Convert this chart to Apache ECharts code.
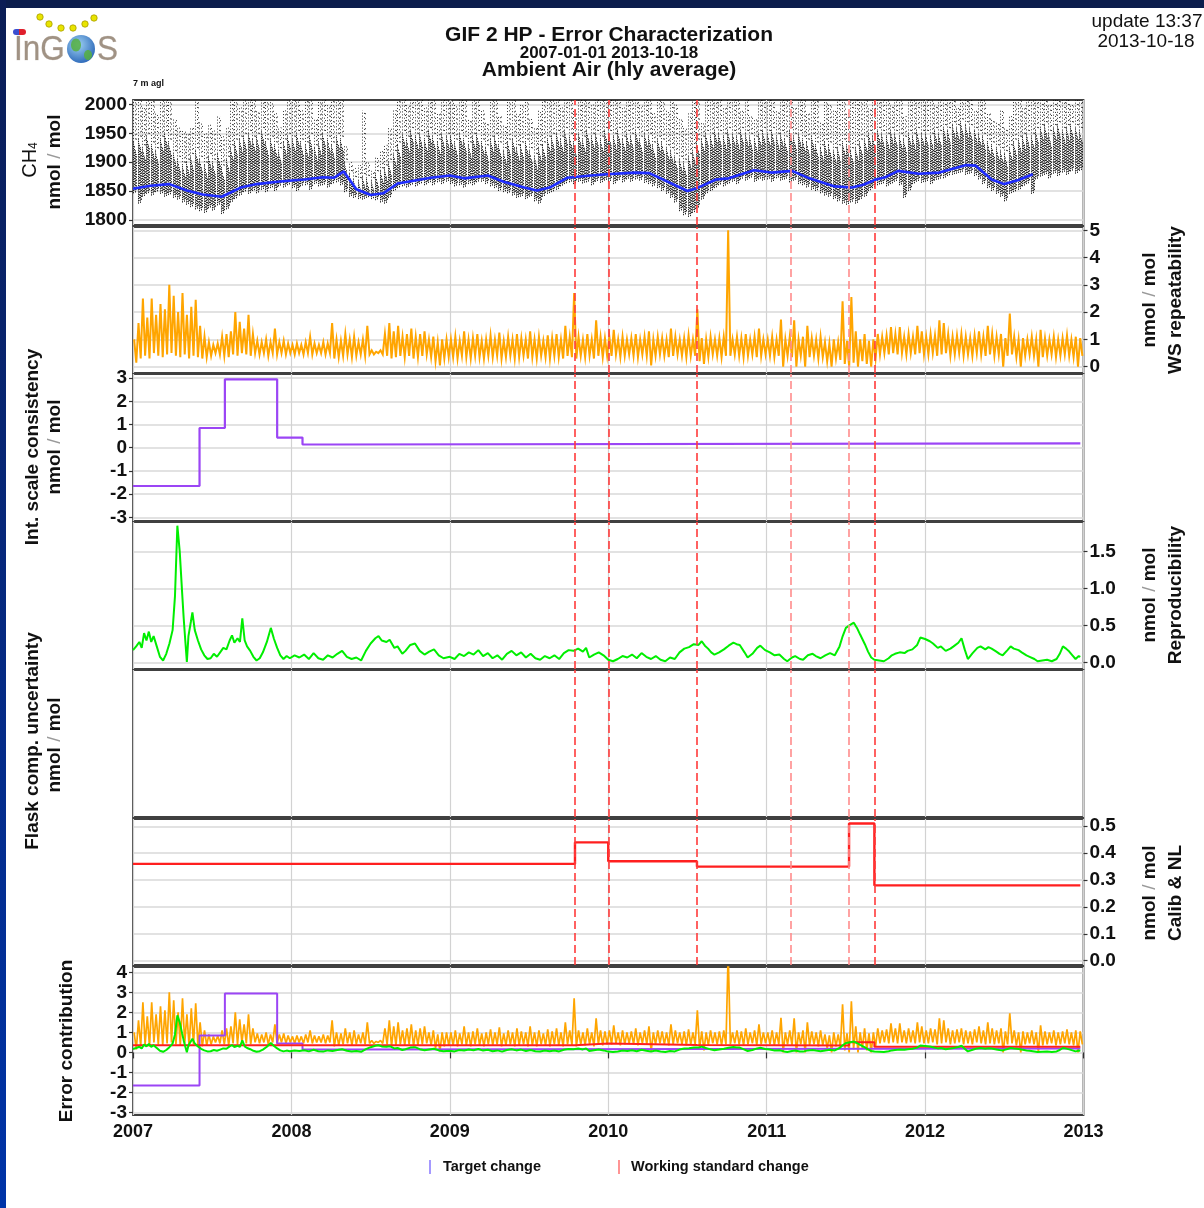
<!DOCTYPE html>
<html>
<head>
<meta charset="utf-8">
<title>GIF 2 HP - Error Characterization</title>
<script src="https://cdn.jsdelivr.net/npm/echarts@6/dist/echarts.min.js"></script>
<style>
  html, body { margin: 0; padding: 0; background: #ffffff; }
  #chart { width: 1204px; height: 1208px; }
</style>
</head>
<body>
<div id="chart"></div>
<script>
// ---------- axis ticks ----------
const xMin = 2007, xMax = 2013;
const yearTicks = [2007, 2008, 2009, 2010, 2011, 2012, 2013];
const ch4Ticks = [1800, 1850, 1900, 1950, 2000];
const wsTicks = [0, 1, 2, 3, 4, 5];
const scaleTicks = [-3, -2, -1, 0, 1, 2, 3];
const reproTicks = [0, 0.5, 1, 1.5];
const calibTicks = [0, 0.1, 0.2, 0.3, 0.4, 0.5];
const errorTicks = [-3, -2, -1, 0, 1, 2, 3, 4];

// ---------- CH4 hourly cloud, summarised per ~10-day bin ----------
const ch4BinStart = 2007, ch4BinStep = 1 / 36;
const ch4Low = [
  1846,1828,1840,1845,1842,1848,1845,1840,1843,1838,1835,1830,
  1826,1822,1818,1815,1812,1820,1816,1825,1810,1818,1830,1836,
  1842,1848,1845,1850,1846,1852,1848,1855,1850,1858,1856,1860,
  1855,1850,1858,1860,1852,1862,1858,1860,1856,1862,1865,1860,
  1848,1840,1838,1836,1835,1838,1836,1834,1830,1828,1838,1850,
  1855,1858,1856,1860,1858,1862,1860,1864,1860,1865,1862,1866,
  1862,1858,1860,1856,1862,1860,1865,1866,1862,1858,1855,1850,
  1848,1846,1842,1838,1840,1836,1840,1832,1828,1840,1845,1848,
  1852,1858,1862,1865,1862,1866,1863,1865,1860,1866,1864,1868,
  1866,1862,1868,1865,1870,1866,1870,1868,1864,1862,1858,1855,
  1850,1845,1838,1830,1815,1808,1805,1812,1820,1835,1845,1850,
  1855,1860,1858,1862,1866,1862,1870,1868,1872,1866,1870,1868,
  1870,1866,1872,1868,1870,1865,1868,1862,1860,1856,1852,1850,
  1846,1842,1840,1836,1832,1828,1826,1830,1828,1835,1840,1850,
  1855,1860,1862,1858,1862,1866,1860,1838,1850,1862,1866,1864,
  1866,1862,1868,1870,1872,1876,1878,1880,1882,1878,1880,1876,
  1870,1862,1855,1850,1845,1840,1832,1845,1848,1852,1858,1862,
  1845,1870,1875,1878,1872,1880,1876,1882,1878,1884,1880,1885
];
const ch4Core = [
  1935,1940,1925,1945,1930,1920,1940,1950,1935,1915,1905,1895,
  1900,1910,1920,1905,1895,1910,1900,1915,1890,1905,1925,1935,
  1940,1945,1950,1940,1945,1955,1935,1940,1930,1920,1935,1945,
  1940,1950,1935,1930,1945,1925,1935,1950,1940,1930,1945,1940,
  1900,1880,1870,1868,1875,1872,1868,1880,1885,1890,1900,1915,
  1930,1950,1940,1955,1945,1950,1940,1955,1945,1935,1950,1945,
  1945,1935,1950,1940,1930,1945,1950,1935,1925,1940,1945,1930,
  1920,1935,1940,1925,1930,1935,1920,1910,1925,1930,1940,1945,
  1950,1940,1955,1945,1935,1950,1940,1955,1945,1950,1940,1955,
  1950,1945,1955,1940,1950,1945,1955,1940,1950,1945,1930,1940,
  1935,1925,1920,1910,1905,1900,1910,1920,1935,1940,1950,1945,
  1955,1950,1945,1955,1950,1945,1955,1950,1945,1940,1950,1955,
  1950,1955,1945,1950,1940,1955,1945,1950,1940,1935,1945,1930,
  1925,1935,1930,1920,1925,1935,1930,1920,1925,1935,1940,1950,
  1945,1955,1950,1945,1955,1950,1945,1940,1950,1945,1955,1950,
  1950,1945,1955,1950,1960,1955,1965,1960,1970,1965,1960,1955,
  1950,1945,1935,1930,1925,1920,1915,1925,1935,1940,1945,1950,
  1945,1955,1960,1965,1950,1960,1965,1955,1960,1965,1960,1955
];
const ch4High = [
  2010,2010,1995,2010,2010,1985,2010,2010,2005,1975,1960,1955,
  1950,1960,2010,1970,1950,1965,1955,1980,1945,1960,2010,2010,
  1995,2010,2010,2010,1990,2010,2010,2005,1985,1960,1990,2010,
  2010,2010,1990,2010,2010,1975,2010,2010,2000,2010,2010,2010,
  1930,1900,1890,1895,1990,1900,1885,1910,1920,1930,1960,1990,
  2010,2010,2000,2010,2010,2010,1995,2010,2010,1985,2010,2010,
  2010,2000,2010,2010,1975,2010,2010,1990,1970,2010,2010,1980,
  1965,2010,2010,1985,2000,2010,1975,1960,1990,2010,2010,2010,
  2010,1995,2010,2010,1990,2010,2010,2010,2000,2010,2010,2010,
  2010,2010,2010,1995,2010,2010,2010,2000,2010,2010,1985,2010,
  2010,1990,2010,2000,1975,1960,1985,2010,2010,1970,2010,2010,
  2010,2010,1995,2010,2010,2010,1990,2010,1980,1975,2010,2010,
  2010,2010,1990,2010,2010,2010,1995,2010,2010,1985,2010,2010,
  1970,2010,2000,1990,2010,2010,1985,2010,2010,2010,2010,1995,
  2010,2010,2010,2010,2000,2010,2010,1980,2010,2010,2010,2010,
  2010,2010,2000,2010,2010,2010,2010,1995,2010,2010,2010,1990,
  2010,2010,1985,1975,1970,1990,1960,1980,2010,2010,1995,2010,
  2010,2010,2010,2010,2000,2010,2010,2010,2010,2000,2010,2010
];
// smoothed CH4 background curve [decimal year, nmol/mol]
const ch4Smooth = [
  [2007.00,1854],[2007.11,1859],[2007.23,1862],[2007.34,1851],[2007.44,1844],[2007.56,1840],
  [2007.68,1856],[2007.78,1862],[2007.91,1866],[2008.08,1870],[2008.20,1874],[2008.27,1873],
  [2008.33,1884],[2008.41,1853],[2008.50,1843],[2008.58,1846],[2008.67,1863],[2008.88,1873],
  [2009.00,1877],[2009.09,1872],[2009.24,1877],[2009.34,1866],[2009.47,1856],[2009.55,1851],
  [2009.63,1856],[2009.74,1873],[2009.89,1877],[2009.99,1879],[2010.17,1882],[2010.26,1881],
  [2010.50,1850],[2010.56,1855],[2010.68,1870],[2010.76,1872],[2010.92,1886],[2011.03,1882],
  [2011.16,1885],[2011.27,1872],[2011.43,1858],[2011.54,1856],[2011.61,1861],[2011.69,1870],
  [2011.75,1874],[2011.83,1885],[2011.96,1880],[2012.09,1882],[2012.26,1895],[2012.32,1894],
  [2012.42,1870],[2012.50,1862],[2012.59,1869],[2012.68,1879]
];

// ---------- working standard repeatability, per ~10-day bin ----------
const wsBinStart = 2007, wsBinStep = 1 / 36;
const wsHigh = [
  1.0,1.6,2.5,1.8,2.5,1.9,2.3,2.1,3.0,2.6,2.0,2.7,
  1.9,2.2,2.45,1.5,1.1,0.9,0.8,0.85,1.1,1.2,1.3,2.0,
  1.65,1.4,1.9,1.2,0.95,0.9,1.0,0.9,1.4,0.9,0.95,0.85,
  0.8,0.85,0.8,0.9,1.1,0.85,0.8,0.9,0.85,1.6,1.0,0.95,
  1.2,1.0,1.1,0.9,1.0,1.5,0.6,0.55,0.6,1.2,1.6,1.3,
  1.5,1.1,1.2,1.4,1.1,1.2,1.3,1.0,1.1,0.9,1.0,1.0,
  1.0,1.1,0.95,1.3,1.0,1.05,1.2,0.95,1.0,1.15,1.0,1.25,
  0.95,1.1,1.0,1.2,1.05,1.0,1.3,1.0,1.1,0.95,1.15,1.05,
  1.2,1.0,1.5,1.1,2.7,1.1,1.0,1.2,1.0,1.7,1.1,1.05,
  1.1,1.35,1.0,1.1,1.0,1.05,1.2,1.0,1.1,1.3,1.0,1.1,
  1.05,1.0,1.4,1.1,1.0,1.05,1.15,1.0,2.1,1.05,1.0,1.1,
  1.0,1.05,1.1,5.0,1.0,1.1,1.05,1.2,1.0,1.1,1.4,1.0,
  1.0,1.1,1.0,1.73,1.0,1.1,1.7,1.0,1.1,1.5,1.05,1.0,
  1.1,0.9,0.85,1.0,0.9,2.4,0.95,2.55,1.3,1.0,1.2,0.95,
  1.0,1.2,1.1,1.15,1.45,1.2,1.45,1.1,1.2,1.1,1.5,1.3,
  1.1,1.2,1.15,1.7,1.6,1.2,1.1,1.15,1.2,1.1,1.05,1.15,
  1.3,1.1,1.5,1.2,1.1,1.2,1.05,1.95,1.1,1.0,1.05,1.0,
  1.1,1.0,1.35,1.05,1.0,1.1,1.0,1.05,1.15,1.0,1.1,1.05
];
const wsLow = [
  0.15,0.3,0.4,0.3,0.5,0.4,0.35,0.45,0.5,0.4,0.35,0.45,
  0.3,0.4,0.35,0.3,0.35,0.4,0.5,0.45,0.4,0.35,0.45,0.4,
  0.5,0.45,0.4,0.5,0.45,0.5,0.4,0.5,0.45,0.5,0.45,0.5,
  0.45,0.5,0.45,0.5,0.45,0.5,0.5,0.45,0.5,0.3,0.35,0.4,
  0.45,0.35,0.4,0.45,0.4,0.45,0.45,0.5,0.45,0.4,0.3,0.35,
  0.4,0.35,0.4,0.3,0.35,0.4,0.45,0.35,0.2,0.05,0.3,0.35,
  0.35,0.3,0.4,0.35,0.3,0.4,0.35,0.3,0.4,0.35,0.4,0.3,
  0.35,0.4,0.3,0.35,0.4,0.3,0.35,0.3,0.4,0.35,0.3,0.4,
  0.35,0.3,0.4,0.35,0.3,0.4,0.35,0.4,0.3,0.4,0.35,0.4,
  0.4,0.45,0.35,0.4,0.45,0.4,0.35,0.45,0.4,0.05,0.4,0.45,
  0.4,0.35,0.4,0.45,0.4,0.35,0.4,0.4,0.2,0.1,0.35,0.45,
  0.4,0.35,0.4,0.4,0.45,0.4,0.35,0.4,0.45,0.35,0.4,0.45,
  0.4,0.35,0.4,0.0,0.4,0.35,0.0,0.4,0.0,0.35,0.4,0.3,
  0.35,0.2,0.0,0.3,0.25,0.1,0.0,0.15,0.0,0.2,0.1,0.0,
  0.3,0.45,0.5,0.45,0.5,0.45,0.5,0.45,0.5,0.45,0.5,0.45,
  0.45,0.5,0.4,0.45,0.5,0.4,0.45,0.5,0.4,0.45,0.4,0.5,
  0.45,0.4,0.45,0.4,0.45,0.0,0.4,0.45,0.35,0.0,0.4,0.45,
  0.4,0.0,0.35,0.4,0.45,0.35,0.4,0.45,0.4,0.35,0.0,0.4
];

// ---------- internal scale consistency (target offsets), step changes ----------
const targetSteps = [
  [2007.00,-1.65],[2007.42,0.85],[2007.58,2.95],[2007.91,0.44],
  [2008.07,0.14],[2008.27,0.19],[2012.98,0.19]
];

// ---------- reproducibility ----------
const reproPoints = [
  [2007.00,0.17],[2007.02,0.22],[2007.04,0.28],[2007.055,0.20],[2007.07,0.40],[2007.085,0.30],
  [2007.10,0.42],[2007.115,0.28],[2007.13,0.36],[2007.15,0.22],[2007.17,0.08],[2007.19,0.03],
  [2007.21,0.12],[2007.23,0.26],[2007.25,0.44],[2007.265,0.90],[2007.28,1.85],[2007.295,1.50],
  [2007.31,0.95],[2007.32,0.60],[2007.33,0.30],[2007.34,0.01],[2007.35,0.36],[2007.365,0.55],
  [2007.375,0.68],[2007.39,0.44],[2007.41,0.30],[2007.43,0.18],[2007.45,0.10],[2007.47,0.05],
  [2007.49,0.06],[2007.51,0.12],[2007.53,0.08],[2007.55,0.14],[2007.57,0.20],[2007.59,0.18],
  [2007.61,0.30],[2007.625,0.37],[2007.64,0.27],[2007.66,0.33],[2007.675,0.28],[2007.69,0.60],
  [2007.705,0.30],[2007.72,0.22],[2007.74,0.16],[2007.76,0.08],[2007.78,0.03],[2007.80,0.06],
  [2007.82,0.14],[2007.845,0.28],[2007.87,0.47],[2007.89,0.32],[2007.91,0.20],[2007.93,0.10],
  [2007.95,0.05],[2007.97,0.09],[2007.99,0.06],[2008.02,0.10],[2008.05,0.07],[2008.08,0.11],
  [2008.11,0.05],[2008.14,0.13],[2008.17,0.06],[2008.20,0.04],[2008.23,0.10],[2008.26,0.07],
  [2008.29,0.12],[2008.32,0.16],[2008.35,0.08],[2008.38,0.05],[2008.41,0.07],[2008.44,0.03],
  [2008.47,0.16],[2008.50,0.26],[2008.53,0.33],[2008.55,0.36],[2008.57,0.30],[2008.60,0.28],
  [2008.62,0.31],[2008.65,0.20],[2008.67,0.22],[2008.70,0.12],[2008.72,0.16],[2008.75,0.24],
  [2008.78,0.26],[2008.81,0.16],[2008.84,0.11],[2008.87,0.15],[2008.90,0.18],[2008.93,0.10],
  [2008.96,0.06],[2009.00,0.08],[2009.03,0.05],[2009.06,0.12],[2009.09,0.09],[2009.12,0.14],
  [2009.15,0.11],[2009.18,0.17],[2009.21,0.09],[2009.24,0.13],[2009.27,0.06],[2009.30,0.10],
  [2009.33,0.04],[2009.36,0.12],[2009.39,0.16],[2009.42,0.10],[2009.45,0.14],[2009.48,0.07],
  [2009.51,0.12],[2009.54,0.06],[2009.57,0.04],[2009.60,0.09],[2009.63,0.06],[2009.66,0.10],
  [2009.69,0.05],[2009.72,0.13],[2009.75,0.17],[2009.78,0.16],[2009.81,0.19],[2009.84,0.15],
  [2009.86,0.20],[2009.88,0.07],[2009.91,0.11],[2009.94,0.14],[2009.97,0.10],[2010.00,0.04],
  [2010.03,0.02],[2010.06,0.05],[2010.09,0.09],[2010.12,0.07],[2010.15,0.11],[2010.18,0.06],
  [2010.21,0.13],[2010.24,0.08],[2010.27,0.05],[2010.30,0.09],[2010.33,0.04],[2010.36,0.02],
  [2010.39,0.07],[2010.42,0.05],[2010.45,0.14],[2010.48,0.19],[2010.51,0.21],[2010.54,0.25],
  [2010.57,0.24],[2010.59,0.29],[2010.61,0.23],[2010.63,0.19],[2010.65,0.14],[2010.67,0.11],
  [2010.70,0.14],[2010.73,0.18],[2010.76,0.23],[2010.79,0.27],[2010.81,0.25],[2010.83,0.24],
  [2010.86,0.14],[2010.88,0.07],[2010.91,0.12],[2010.94,0.20],[2010.96,0.23],[2010.99,0.17],
  [2011.02,0.14],[2011.05,0.10],[2011.08,0.11],[2011.11,0.05],[2011.13,0.02],[2011.16,0.07],
  [2011.18,0.09],[2011.21,0.05],[2011.23,0.04],[2011.26,0.10],[2011.29,0.12],[2011.31,0.09],
  [2011.34,0.06],[2011.37,0.10],[2011.40,0.13],[2011.43,0.10],[2011.46,0.22],[2011.48,0.36],
  [2011.50,0.47],[2011.52,0.50],[2011.55,0.54],[2011.57,0.47],[2011.59,0.38],[2011.62,0.25],
  [2011.64,0.15],[2011.66,0.07],[2011.68,0.04],[2011.71,0.03],[2011.74,0.02],[2011.77,0.06],
  [2011.79,0.10],[2011.81,0.12],[2011.84,0.14],[2011.87,0.13],[2011.89,0.16],[2011.92,0.18],
  [2011.95,0.24],[2011.97,0.34],[2012.00,0.32],[2012.03,0.29],[2012.05,0.26],[2012.08,0.20],
  [2012.10,0.22],[2012.13,0.16],[2012.16,0.19],[2012.18,0.22],[2012.21,0.27],[2012.23,0.33],
  [2012.25,0.18],[2012.27,0.05],[2012.30,0.13],[2012.33,0.20],[2012.35,0.22],[2012.38,0.18],
  [2012.40,0.21],[2012.42,0.19],[2012.45,0.15],[2012.47,0.12],[2012.49,0.10],[2012.52,0.17],
  [2012.54,0.22],[2012.56,0.19],[2012.59,0.17],[2012.61,0.14],[2012.64,0.10],[2012.66,0.08],
  [2012.69,0.05],[2012.71,0.02],[2012.74,0.03],[2012.77,0.04],[2012.80,0.02],[2012.83,0.05],
  [2012.85,0.12],[2012.87,0.22],[2012.89,0.19],[2012.91,0.15],[2012.93,0.10],[2012.95,0.05],
  [2012.97,0.09],[2012.98,0.08]
];

// ---------- calibration & non-linearity, step changes ----------
const calibSteps = [
  [2007.00,0.36],[2009.79,0.44],[2010.00,0.37],[2010.56,0.35],
  [2011.52,0.51],[2011.68,0.28],[2012.98,0.28]
];

// ---------- working standard changes ----------
const wsChangeDates = [2009.79, 2010.00, 2010.56, 2011.15, 2011.52, 2011.68];
const wsChangeFaint = [false, false, false, true, true, false];

// ---------- layout ----------
const FONT = '"Liberation Sans", Arial, Helvetica, sans-serif';
const PLOT_LEFT = 133, PLOT_RIGHT = 120.5;
const panels = [
  { top: 100, height: 125 },   // CH4
  { top: 227, height: 146 },   // WS repeatability
  { top: 374, height: 147 },   // internal scale consistency
  { top: 522, height: 147 },   // reproducibility
  { top: 670, height: 147 },   // flask comparison
  { top: 819, height: 146 },   // calibration & NL
  { top: 967, height: 148 }    // error contribution
];
const yConfigs = [
  { side: 'left',  min: 1791,   max: 2008,  ticks: ch4Ticks },
  { side: 'right', min: -0.23,  max: 5.12,  ticks: wsTicks },
  { side: 'left',  min: -3.16,  max: 3.18,  ticks: scaleTicks },
  { side: 'right', min: -0.085, max: 1.9,   ticks: reproTicks, fmt: v => v.toFixed(1) },
  { side: 'left',  min: 0,      max: 1,     ticks: null },
  { side: 'right', min: -0.016, max: 0.527, ticks: calibTicks, fmt: v => v.toFixed(1) },
  { side: 'left',  min: -3.13,  max: 4.27,  ticks: errorTicks }
];

const COL = {
  blue: '#1f2dff', orange: '#ffa500', purple: '#9b45f5', green: '#00ee00',
  red: '#ff1f1f', grid: '#d9d9d9', frame: '#404040'
};

// ---------- derived series data ----------
const ch4Bins = ch4Low.map((lo, i) => [ch4BinStart + (i + 0.5) * ch4BinStep, lo, ch4Core[i], ch4High[i]]);
const wsLine = [];
wsHigh.forEach((hi, i) => {
  const t = wsBinStart + i * wsBinStep;
  wsLine.push([t + wsBinStep * 0.25, hi]);
  wsLine.push([t + wsBinStep * 0.75, wsLow[i]]);
});

function changeMarks() {
  return {
    silent: true,
    symbol: ['none', 'none'],
    label: { show: false },
    animation: false,
    data: wsChangeDates.map((d, i) => ({
      xAxis: d,
      lineStyle: { color: wsChangeFaint[i] ? '#ff8c8c' : '#ff3b3b', type: [8, 4], width: 1.6 }
    }))
  };
}

const grid = panels.map(p => ({
  left: PLOT_LEFT, right: PLOT_RIGHT, top: p.top, height: p.height,
  show: true, borderColor: COL.frame, borderWidth: 1.8, backgroundColor: 'transparent'
}));

const xAxis = panels.map((p, i) => ({
  gridIndex: i, type: 'value', min: xMin, max: xMax, interval: 1,
  axisLine: { show: false },
  axisTick: { show: i === 6, length: 6, inside: false, lineStyle: { color: '#333', width: 1.2 } },
  axisLabel: {
    show: i === 6, margin: 8, color: '#111', fontFamily: FONT, fontWeight: 'bold', fontSize: 18,
    formatter: v => String(Math.round(v)), customValues: yearTicks
  },
  splitLine: { show: true, lineStyle: { color: '#d2d2d2', width: 1.2 } }
}));

const yAxis = yConfigs.map((c, i) => ({
  gridIndex: i, type: 'value', position: c.side, min: c.min, max: c.max,
  axisLine: { show: false },
  axisTick: c.ticks ? { show: true, customValues: c.ticks, length: 4, lineStyle: { color: '#333', width: 1.2 } } : { show: false },
  axisLabel: c.ticks ? {
    show: true, customValues: c.ticks, margin: 6, color: '#111',
    fontFamily: FONT, fontWeight: 'bold', fontSize: 19,
    formatter: c.fmt || (v => String(v))
  } : { show: false },
  splitLine: { show: !!c.ticks, lineStyle: { color: COL.grid, width: 1.5 } }
}));

const lineBase = { type: 'line', showSymbol: false, symbol: 'none', animation: false, silent: true };

// one dotted streak per bin: dense part from the low end to the core top, sparse part above;
// strokes are snapped to pixel centres so the dots stay crisp and dark
function ch4Streak(params, api) {
  const x = api.value(0);
  const pLo = api.coord([x, api.value(1)]);
  const pCore = api.coord([x, api.value(2)]);
  const pHi = api.coord([x, api.value(3)]);
  const cx = Math.round(pLo[0]) + 0.5;
  const kids = [];
  [-2, -1, 0, 1].forEach((dx, k) => {
    kids.push({ type: 'line',
      shape: { x1: cx + dx, y1: pLo[1] - (k % 2) * 3, x2: cx + dx, y2: pCore[1] + k * 4 },
      style: { stroke: '#000', lineWidth: 1, lineDash: [1.4, 0.8 + (k % 2) * 0.7], lineDashOffset: k * 0.7, opacity: 0.85 } });
  });
  [-2, 0, 1].forEach((dx, k) => {
    kids.push({ type: 'line',
      shape: { x1: cx + dx, y1: pCore[1], x2: cx + dx, y2: pHi[1] },
      style: { stroke: '#000', lineWidth: 1, lineDash: [1, 2 + k], lineDashOffset: k * 1.3, opacity: 0.8 } });
  });
  return { type: 'group', children: kids };
}

const series = [
  {
    type: 'custom', xAxisIndex: 0, yAxisIndex: 0, clip: true, silent: true, animation: false,
    encode: { x: 0, y: [1, 3] }, data: ch4Bins, renderItem: ch4Streak
  },
  Object.assign({}, lineBase, {
    xAxisIndex: 0, yAxisIndex: 0, data: ch4Smooth, z: 3,
    lineStyle: { color: COL.blue, width: 2.6 }, markLine: changeMarks()
  }),
  Object.assign({}, lineBase, {
    xAxisIndex: 1, yAxisIndex: 1, data: wsLine,
    lineStyle: { color: COL.orange, width: 2, join: 'miter' }, markLine: changeMarks()
  }),
  Object.assign({}, lineBase, {
    xAxisIndex: 2, yAxisIndex: 2, data: targetSteps, step: 'end',
    lineStyle: { color: COL.purple, width: 2.2 }, markLine: changeMarks()
  }),
  Object.assign({}, lineBase, {
    xAxisIndex: 3, yAxisIndex: 3, data: reproPoints,
    lineStyle: { color: COL.green, width: 2 }, markLine: changeMarks()
  }),
  Object.assign({}, lineBase, {
    xAxisIndex: 4, yAxisIndex: 4, data: [],
    lineStyle: { color: '#000', width: 1 }, markLine: changeMarks()
  }),
  Object.assign({}, lineBase, {
    xAxisIndex: 5, yAxisIndex: 5, data: calibSteps, step: 'end',
    lineStyle: { color: COL.red, width: 2.4 }, markLine: changeMarks()
  }),
  // error contribution overlay
  Object.assign({}, lineBase, {
    xAxisIndex: 6, yAxisIndex: 6, data: wsLine, lineStyle: { color: COL.orange, width: 1.7 }
  }),
  Object.assign({}, lineBase, {
    xAxisIndex: 6, yAxisIndex: 6, data: targetSteps, step: 'end', lineStyle: { color: COL.purple, width: 2 }
  }),
  Object.assign({}, lineBase, {
    xAxisIndex: 6, yAxisIndex: 6, data: calibSteps, step: 'end', lineStyle: { color: COL.red, width: 2 }
  }),
  Object.assign({}, lineBase, {
    xAxisIndex: 6, yAxisIndex: 6, data: reproPoints, lineStyle: { color: COL.green, width: 2 }
  })
];

// ---------- texts and frame decoration ----------
const unitRich = {
  b: { fontFamily: FONT, fontWeight: 'bold', fontSize: 19, fill: '#111' },
  s: { fontFamily: FONT, fontWeight: 'normal', fontSize: 19, fill: '#9a9a9a' }
};
function vText(x, y, text, opts) {
  return {
    type: 'text', x: x, y: y, rotation: Math.PI / 2, silent: true, z: 10,
    style: Object.assign({
      text: text, align: 'center', verticalAlign: 'middle',
      font: 'bold 19px ' + FONT, fill: '#111'
    }, opts || {})
  };
}
function unitText(x, y) {
  return vText(x, y, '{b|nmol} {s|/} {b|mol}', { rich: unitRich });
}
function hText(x, y, text, font, align) {
  return {
    type: 'text', x: x, y: y, silent: true, z: 10,
    style: { text: text, align: align || 'center', verticalAlign: 'middle', font: font, fill: '#111' }
  };
}
const logoLetter = { fill: '#a09284', stroke: '#d6d0ca', lineWidth: 0.6 };

const graphic = [
  // window frame
  { type: 'rect', shape: { x: 0, y: 0, width: 1204, height: 8 }, style: { fill: '#0b1d4c' }, z: -10, silent: true },
  { type: 'rect', shape: { x: 0, y: 0, width: 6, height: 1208 }, z: -10, silent: true,
    style: { fill: { type: 'linear', x: 0, y: 0, x2: 0, y2: 1, colorStops: [
      { offset: 0, color: '#0b1d55' }, { offset: 1, color: '#0034a8' } ] } } },

  // logo
  { type: 'rect', shape: { x: 13, y: 29, width: 13, height: 6, r: 3 }, silent: true,
    style: { fill: { type: 'linear', x: 0, y: 0, x2: 1, y2: 0, colorStops: [
      { offset: 0, color: '#3a4fd0' }, { offset: 0.5, color: '#3a4fd0' },
      { offset: 0.5, color: '#e0202c' }, { offset: 1, color: '#e0202c' } ] } } },
  ...[[40,17],[49,24],[61,28],[73,28],[85,24],[94,18]].map(p => ({
    type: 'circle', shape: { cx: p[0], cy: p[1], r: 3.2 }, silent: true,
    style: { fill: '#e8e400', stroke: '#a89c00', lineWidth: 0.8 }
  })),
  { type: 'text', x: 14, y: 50, scaleX: 0.9, silent: true,
    style: Object.assign({ text: 'InG', align: 'left', verticalAlign: 'middle', font: '35px ' + FONT }, logoLetter) },
  { type: 'circle', shape: { cx: 81, cy: 49, r: 14 }, silent: true,
    style: { fill: { type: 'radial', x: 0.4, y: 0.35, r: 0.7, colorStops: [
      { offset: 0, color: '#9fd2f4' }, { offset: 1, color: '#2a66b8' } ] } } },
  { type: 'ellipse', shape: { cx: 76, cy: 45, rx: 5, ry: 6.5 }, silent: true, style: { fill: '#56b040', opacity: 0.85 } },
  { type: 'ellipse', shape: { cx: 88, cy: 55, rx: 4, ry: 5 }, silent: true, style: { fill: '#56b040', opacity: 0.85 } },
  { type: 'text', x: 97, y: 50, scaleX: 0.9, silent: true,
    style: Object.assign({ text: 'S', align: 'left', verticalAlign: 'middle', font: '35px ' + FONT }, logoLetter) },

  // titles
  hText(609, 35, 'GIF 2 HP - Error Characterization', 'bold 21px ' + FONT),
  hText(609, 53, '2007-01-01 2013-10-18', 'bold 17px ' + FONT),
  hText(609, 70, 'Ambient Air (hly average)', 'bold 21px ' + FONT),
  hText(1147, 22, 'update 13:37', '19px ' + FONT),
  hText(1146, 42, '2013-10-18', '19px ' + FONT),
  hText(133, 84, '7 m agl', 'bold 9px ' + FONT, 'left'),

  // axis names, left side
  vText(30, 160, '{c|CH}{sub|4}', { rich: {
    c: { fontFamily: FONT, fontSize: 20, fill: '#111' },
    sub: { fontFamily: FONT, fontSize: 12, fill: '#111', verticalAlign: 'bottom', padding: [8, 0, 0, 0] } } }),
  unitText(55, 162),
  vText(33, 447, 'Int. scale consistency'),
  unitText(55, 447),
  vText(33, 741, 'Flask comp. uncertainty'),
  unitText(55, 745),
  vText(67, 1041, 'Error contribution'),

  // axis names, right side
  unitText(1150, 300),
  vText(1176, 300, 'WS repeatability'),
  unitText(1150, 595),
  vText(1176, 595, 'Reproducibility'),
  unitText(1150, 893),
  vText(1176, 893, 'Calib & NL'),

  // legend
  { type: 'line', shape: { x1: 430, y1: 1160, x2: 430, y2: 1174 }, silent: true,
    style: { stroke: '#8f7fff', lineWidth: 1.6 } },
  hText(443, 1167, 'Target change', 'bold 14.5px ' + FONT, 'left'),
  { type: 'line', shape: { x1: 619, y1: 1160, x2: 619, y2: 1174 }, silent: true,
    style: { stroke: '#ff7a7a', lineWidth: 1.6 } },
  hText(631, 1167, 'Working standard change', 'bold 14.5px ' + FONT, 'left')
];

const chart = echarts.init(document.getElementById('chart'), null, { renderer: 'canvas' });
chart.setOption({
  backgroundColor: '#ffffff',
  animation: false,
  grid: grid,
  xAxis: xAxis,
  yAxis: yAxis,
  series: series,
  graphic: graphic
});
</script>
</body>
</html>
